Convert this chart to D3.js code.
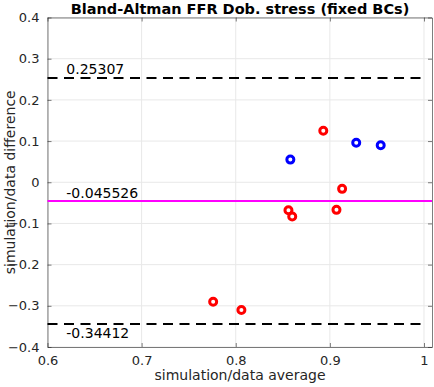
<!DOCTYPE html>
<html>
<head>
<meta charset="utf-8">
<script src="https://cdn.jsdelivr.net/npm/d3@7"></script>
<style>
  body { margin: 0; background: #fff; }
  text { font-family: "DejaVu Sans", sans-serif; }
</style>
</head>
<body>
<div id="chart"></div>
<script>
// points: average vs difference
const redAvg  = [0.893, 0.913, 0.856, 0.860, 0.907, 0.776, 0.806];
const redDiff = [0.125, -0.016, -0.068, -0.083, -0.067, -0.290, -0.310];
const blueAvg  = [0.928, 0.954, 0.858];
const blueDiff = [0.096, 0.090, 0.055];

const meanDiff = -0.045526;
const upperLoA = 0.25307;
const lowerLoA = -0.34412;

const xTicks = [0.6, 0.7, 0.8, 0.9, 1];
const yTicks = [-0.4, -0.3, -0.2, -0.1, 0, 0.1, 0.2, 0.3, 0.4];

const width = 434, height = 387;
const margins = { top: 17.5, right: 2, bottom: 40, left: 47.5 };

const svg = d3.select("#chart").append("svg")
    .attr("width", width)
    .attr("height", height);

const x = d3.scaleLinear()
    .domain([0.6, 1.0085])
    .range([margins.left, width - margins.right]);
const y = d3.scaleLinear()
    .domain([-0.4, 0.4])
    .range([height - margins.bottom, margins.top]);

const axisColor = "#262626";

// grid
svg.append("g").selectAll("line.gx")
    .data(xTicks)
    .join("line")
    .attr("x1", d => x(d)).attr("x2", d => x(d))
    .attr("y1", y(-0.4)).attr("y2", y(0.4))
    .attr("stroke", "#e8e8e8");
svg.append("g").selectAll("line.gy")
    .data(yTicks)
    .join("line")
    .attr("x1", x.range()[0]).attr("x2", x.range()[1])
    .attr("y1", d => y(d)).attr("y2", d => y(d))
    .attr("stroke", "#e8e8e8");

// axes, ticks inward like matlab
const fmt = d => d3.format("")(+d.toFixed(1));
const gx = svg.append("g")
    .attr("transform", `translate(0,${y(-0.4)})`)
    .call(d3.axisBottom(x).tickValues(xTicks).tickFormat(fmt).tickSizeInner(-4).tickSizeOuter(0).tickPadding(9));
const gxTop = svg.append("g")
    .attr("transform", `translate(0,${y(0.4)})`)
    .call(d3.axisTop(x).tickValues(xTicks).tickFormat("").tickSizeInner(-4).tickSizeOuter(0));
const gy = svg.append("g")
    .attr("transform", `translate(${x.range()[0]},0)`)
    .call(d3.axisLeft(y).tickValues(yTicks).tickFormat(fmt).tickSizeInner(-4).tickSizeOuter(0).tickPadding(8));
const gyRight = svg.append("g")
    .attr("transform", `translate(${x.range()[1]},0)`)
    .call(d3.axisRight(y).tickValues(yTicks).tickFormat("").tickSizeInner(-4).tickSizeOuter(0));

[gx, gxTop, gy, gyRight].forEach(g => {
    g.selectAll("path, line").attr("stroke", axisColor).attr("stroke-width", 0.6);
    g.selectAll("text")
        .attr("fill", axisColor)
        .style("font-family", "DejaVu Sans, sans-serif")
        .style("font-size", "13px");
});

// limits of agreement
[upperLoA, lowerLoA].forEach(v => {
    svg.append("line")
        .attr("x1", x.range()[0]).attr("x2", x.range()[1] - 5)
        .attr("y1", y(v)).attr("y2", y(v))
        .attr("stroke", "#000")
        .attr("stroke-width", 2)
        .attr("stroke-dasharray", "10,6.5");
});
svg.append("line")
    .attr("x1", x.range()[0]).attr("x2", x.range()[1])
    .attr("y1", y(meanDiff)).attr("y2", y(meanDiff))
    .attr("stroke", "#ff00ff")
    .attr("stroke-width", 2);

// value labels
const labels = [
    { v: upperLoA, t: "0.25307", dy: -4 },
    { v: meanDiff, t: "-0.045526", dy: -3.5 },
    { v: lowerLoA, t: "-0.34412", dy: 14 }
];
svg.append("g").selectAll("text")
    .data(labels)
    .join("text")
    .attr("x", x(0.62))
    .attr("y", d => y(d.v) + d.dy)
    .attr("font-size", 14)
    .attr("fill", "#000")
    .text(d => d.t);

// points
const drawPoints = (avg, diff, color) => {
    svg.append("g").selectAll("circle")
        .data(avg.map((a, i) => [a, diff[i]]))
        .join("circle")
        .attr("cx", d => x(d[0]))
        .attr("cy", d => y(d[1]))
        .attr("r", 3.5)
        .attr("fill", "none")
        .attr("stroke", color)
        .attr("stroke-width", 3);
};
drawPoints(redAvg, redDiff, "#ff0000");
drawPoints(blueAvg, blueDiff, "#0000ff");

// title and axis labels
svg.append("text")
    .attr("x", 240)
    .attr("y", 13.5)
    .attr("text-anchor", "middle")
    .attr("font-size", 14.5)
    .attr("font-weight", "bold")
    .attr("fill", "#000")
    .text("Bland-Altman FFR Dob. stress (fixed BCs)");

svg.append("text")
    .attr("x", 240)
    .attr("y", 380)
    .attr("text-anchor", "middle")
    .attr("font-size", 14)
    .attr("fill", axisColor)
    .text("simulation/data average");

svg.append("text")
    .attr("transform", `translate(15,${(y(0.4) + y(-0.4)) / 2}) rotate(-90)`)
    .attr("text-anchor", "middle")
    .attr("font-size", 14)
    .attr("fill", axisColor)
    .text("simulation/data difference");
</script>
</body>
</html>
